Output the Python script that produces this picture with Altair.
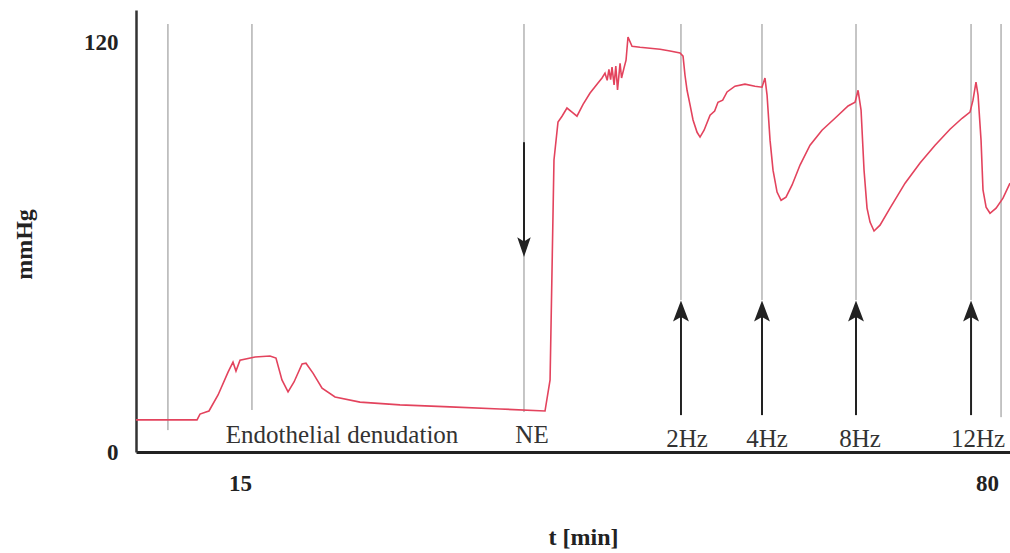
import altair as alt
import pandas as pd

# Pressure trace (t in min, pressure in mmHg)
trace_t = [5.95, 11.26, 11.52, 12.04, 12.30, 13.09, 13.96, 14.39, 14.65, 15.00, 16.31, 17.61,
           18.13, 18.65, 19.18, 19.70, 20.40, 20.74, 21.35, 22.14, 23.27, 25.44, 28.92, 33.27,
           37.62, 41.54, 41.98, 42.32, 42.67, 43.02, 43.45, 43.89, 44.32, 44.85, 45.46, 46.15,
           46.50, 46.76, 46.95, 47.10, 47.25, 47.37, 47.55, 47.70, 47.85, 48.07, 48.20, 48.41,
           48.59, 48.76, 49.11, 49.81, 50.68, 51.55, 52.42, 53.29, 53.55, 53.72, 53.90, 54.16,
           54.42, 54.77, 55.03, 55.38, 55.90, 56.30, 56.59, 57.00, 57.38, 58.07, 58.94, 59.81,
           60.42, 60.68, 60.86, 61.12, 61.38, 61.73, 62.08, 62.51, 63.03, 63.73, 64.60, 65.64,
           66.77, 67.91, 68.52, 68.78, 69.04, 69.30, 69.56, 69.82, 70.17, 70.69, 71.56, 72.87,
           74.17, 75.48, 76.78, 77.83, 78.52, 78.78, 79.04, 79.22, 79.48, 79.65, 79.92, 80.26,
           80.79, 81.39, 82.00]
trace_p = [9.4, 9.4, 11.1, 11.7, 12.0, 16.7, 23.4, 26.3, 23.7, 26.9, 27.8, 28.1,
           27.5, 21.1, 17.6, 20.5, 25.8, 26.0, 23.1, 18.7, 16.1, 14.6, 13.8, 13.2,
           12.6, 12.0, 21.1, 85.5, 96.6, 98.3, 100.7, 99.5, 98.3, 101.8, 105.1, 108.0,
           109.5, 110.9, 108.8, 112.0, 109.0, 112.7, 107.5, 113.0, 106.0, 113.8, 109.5, 112.4,
           114.7, 121.5, 118.8, 118.5, 118.2, 117.9, 117.4, 116.8, 115.9, 110.3, 105.9, 101.6,
           97.2, 93.6, 92.2, 94.2, 98.6, 99.8, 102.4, 103.0, 105.4, 107.1, 107.7, 107.1,
           106.8, 109.5, 104.5, 91.3, 82.5, 76.1, 73.7, 74.6, 78.1, 84.0, 89.8, 94.2,
           97.7, 101.3, 102.4, 105.9, 100.1, 82.5, 71.4, 67.3, 64.7, 66.4, 71.4, 78.7,
           84.6, 89.8, 94.5, 97.7, 99.5, 103.0, 108.3, 104.5, 91.3, 76.7, 71.7, 69.9,
           71.4, 74.3, 78.7]

# Thin grey marker lines (time, top, bottom)
marker_t = [8.73, 16.04, 39.71, 53.37, 60.42, 68.60, 78.61, 81.22]
marker_top = [125.3, 125.3, 125.3, 125.3, 125.3, 125.3, 125.3, 125.3]
marker_bottom = [6.4, 12.3, 11.7, 44.5, 44.5, 44.5, 44.5, 10.2]

# Stimulation arrows (pointing up)
stim_t = [53.37, 60.42, 68.60, 78.61]
stim_shaft_low = [10.8, 10.8, 10.8, 10.8]
stim_shaft_high = [41.6, 41.6, 41.6, 41.6]
stim_head = [40.5, 40.5, 40.5, 40.5]

# NE arrow (pointing down)
ne_t = [39.71]
ne_shaft_high = [90.7]
ne_shaft_low = [60.6]
ne_head = [60.7]

# Annotations
ann_text = ["Endothelial denudation", "NE", "2Hz", "4Hz", "8Hz", "12Hz"]
ann_t = [23.88, 40.41, 53.90, 60.86, 68.95, 79.22]
ann_p = [2.6, 2.6, 1.5, 1.5, 1.5, 1.5]

trace = pd.DataFrame({"t": trace_t, "p": trace_p})
markers = pd.DataFrame({"t": marker_t, "top": marker_top, "bottom": marker_bottom})
stims = pd.DataFrame({"t": stim_t, "lo": stim_shaft_low, "hi": stim_shaft_high, "head": stim_head})
ne = pd.DataFrame({"t": ne_t, "hi": ne_shaft_high, "lo": ne_shaft_low, "head": ne_head})
ann = pd.DataFrame({"text": ann_text, "t": ann_t, "p": ann_p})

SERIF = "Liberation Serif"
xscale = alt.Scale(domain=[5.95, 82.0], nice=False, zero=False)
yscale = alt.Scale(domain=[0, 129.4], nice=False)

xaxis = alt.Axis(values=[15, 80], ticks=False, grid=False, labelFont=SERIF, labelFontSize=23,
                 labelFontWeight="bold", labelColor="#222", labelPadding=20,
                 domainColor="#222", domainWidth=3, title="t [min]", titleFont=SERIF,
                 titleFontSize=24, titleFontWeight="bold", titleColor="#222",
                 titleX=447, titleY=85, titleBaseline="middle", titleAlign="center")
yaxis = alt.Axis(values=[0, 120], ticks=False, grid=False, labelFont=SERIF, labelFontSize=23,
                 labelFontWeight="bold", labelColor="#222", labelPadding=18,
                 domainColor="#333", domainWidth=2.5, title="mmHg", titleFont=SERIF,
                 titleFontSize=24, titleFontWeight="bold", titleColor="#222",
                 titleX=-112, titleY=234, titleBaseline="middle", titleAlign="center",
                 titleAngle=270)

marker_lines = alt.Chart(markers).mark_rule(color="#8c8c8c", strokeWidth=1).encode(
    x=alt.X("t:Q", scale=xscale, axis=xaxis),
    y=alt.Y("top:Q", scale=yscale, axis=yaxis),
    y2="bottom:Q",
)

line = alt.Chart(trace).mark_line(color="#e3435d", strokeWidth=1.6).encode(
    x=alt.X("t:Q", scale=xscale), y=alt.Y("p:Q", scale=yscale)
)

stim_shafts = alt.Chart(stims).mark_rule(color="#222", strokeWidth=2).encode(
    x=alt.X("t:Q", scale=xscale), y=alt.Y("lo:Q", scale=yscale), y2="hi:Q"
)
stim_heads = alt.Chart(stims).mark_point(
    shape="M0,-1L0.6,0.6L0,0.25L-0.6,0.6Z", size=700, filled=True, color="#222", opacity=1
).encode(x=alt.X("t:Q", scale=xscale), y=alt.Y("head:Q", scale=yscale))

ne_shaft = alt.Chart(ne).mark_rule(color="#222", strokeWidth=2).encode(
    x=alt.X("t:Q", scale=xscale), y=alt.Y("lo:Q", scale=yscale), y2="hi:Q"
)
ne_head_mark = alt.Chart(ne).mark_point(
    shape="M0,1L0.55,-0.6L0,-0.25L-0.55,-0.6Z", size=600, filled=True, color="#222", opacity=1
).encode(x=alt.X("t:Q", scale=xscale), y=alt.Y("head:Q", scale=yscale))

labels = alt.Chart(ann).mark_text(
    font=SERIF, fontSize=25, color="#333", baseline="alphabetic", align="center"
).encode(x=alt.X("t:Q", scale=xscale), y=alt.Y("p:Q", scale=yscale), text="text:N")

chart = alt.layer(
    marker_lines, line, stim_shafts, stim_heads, ne_shaft, ne_head_mark, labels
).properties(
    width=874, height=442,
    padding={"left": 136, "top": 10, "right": 0, "bottom": 101},
    autosize=alt.AutoSizeParams(type="none"),
).configure(background="white", view=alt.ViewConfig(stroke=None))

chart.save("out.html", embed_options={"renderer": "svg", "actions": False})
